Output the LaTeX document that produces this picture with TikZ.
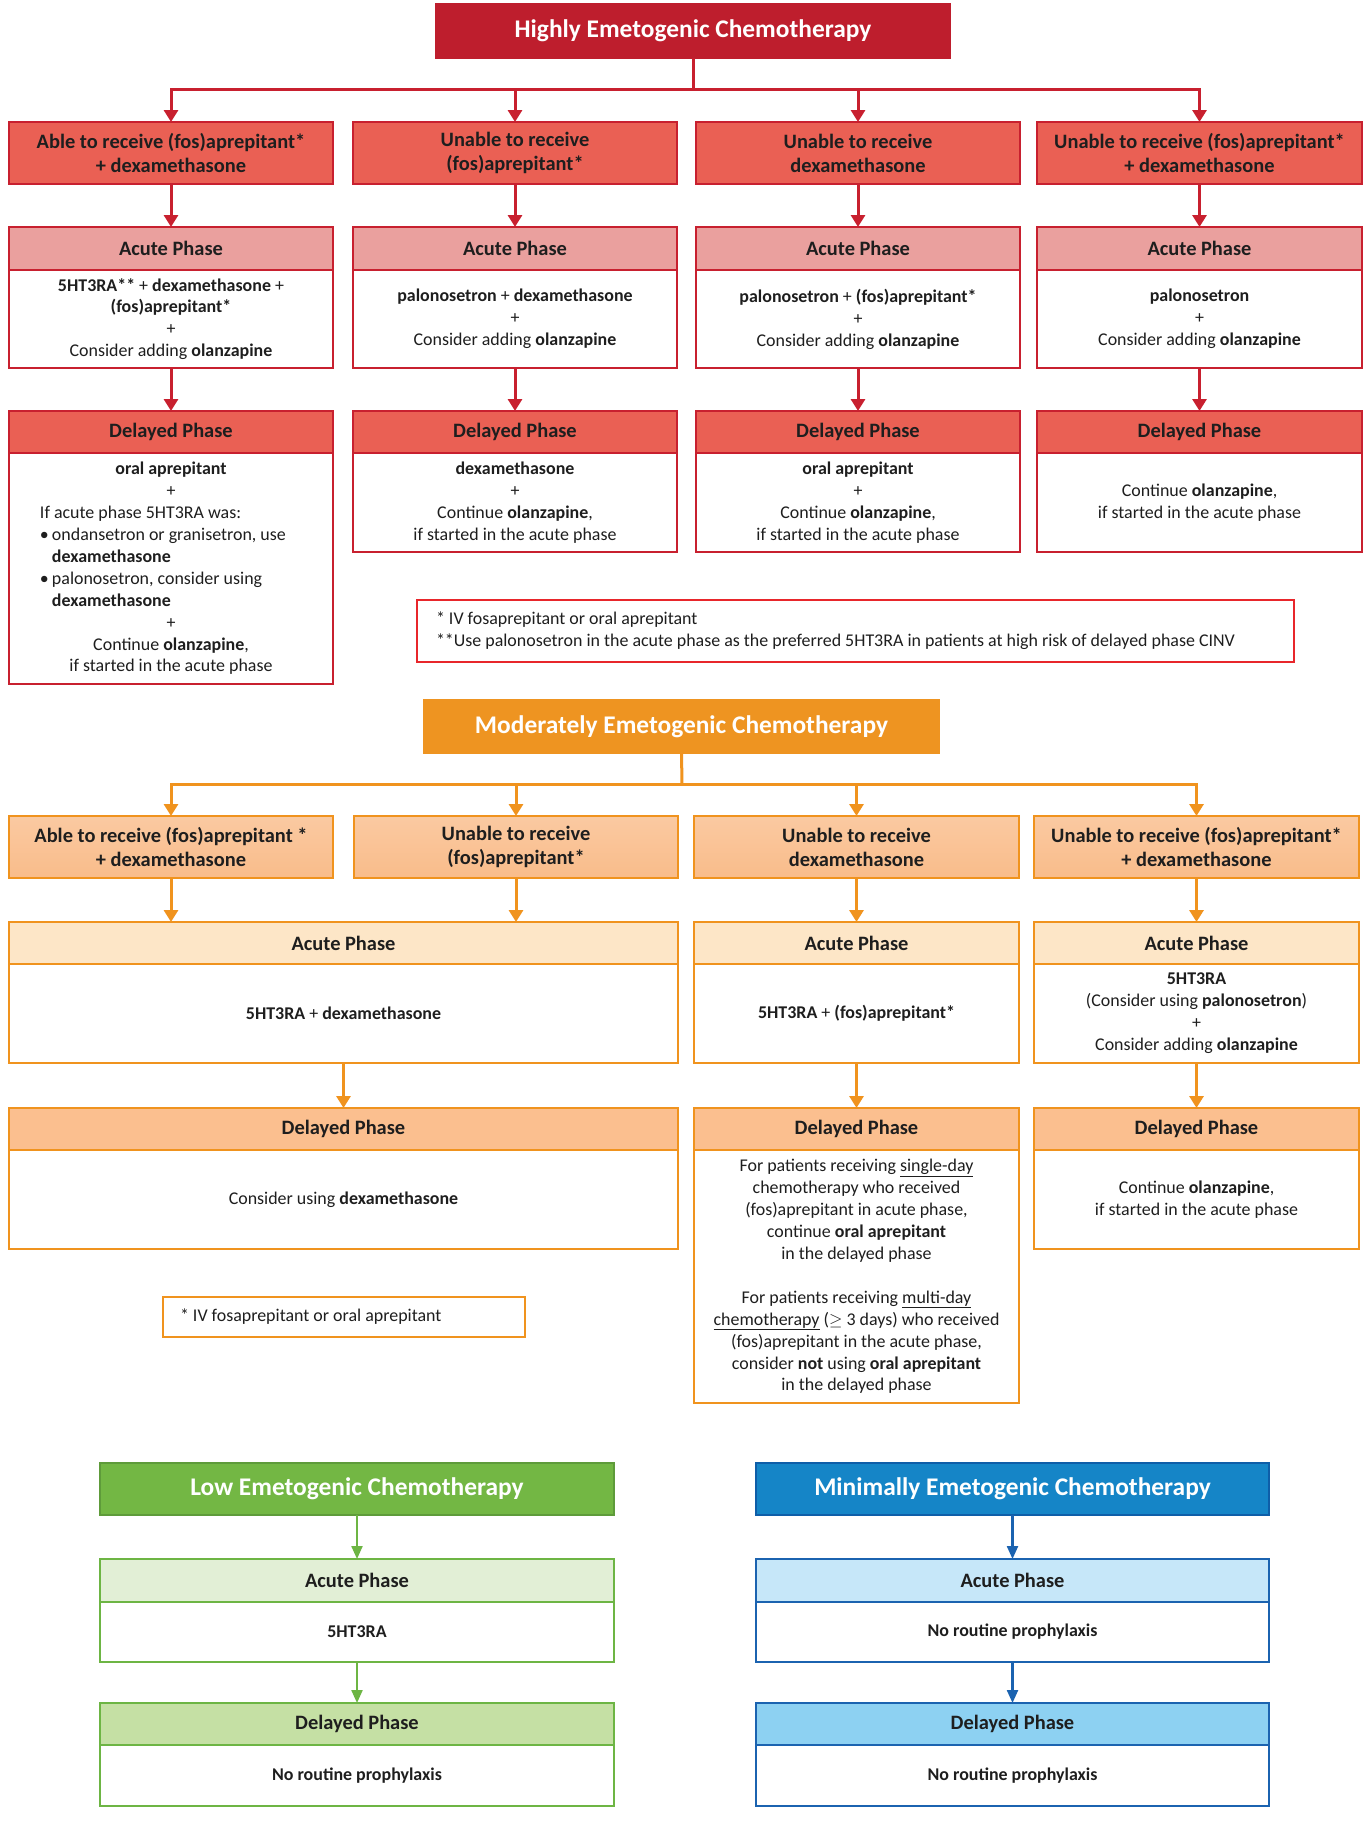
\documentclass[tikz,border=0pt]{standalone}
\usepackage{fontspec}
\setmainfont{Carlito}
\usetikzlibrary{arrows.meta}
\definecolor{txt}{HTML}{1E1E1E}
\definecolor{hecdark}{HTML}{BE1E2D}
\definecolor{hecmid}{HTML}{EA6054}
\definecolor{heclight}{HTML}{EAA09E}
\definecolor{hecline}{HTML}{C8202F}
\definecolor{hecnote}{HTML}{E8262B}
\definecolor{mecdark}{HTML}{EE9421}
\definecolor{mecbranch}{HTML}{F9BC8A}
\definecolor{mecline}{HTML}{F0931E}
\definecolor{meclight}{HTML}{FDE6C7}
\definecolor{mecmid}{HTML}{FBBF8F}
\definecolor{lecdark}{HTML}{73B744}
\definecolor{lecedge}{HTML}{5E9B3A}
\definecolor{leclight}{HTML}{E2EFD6}
\definecolor{lecmid}{HTML}{C5E0A4}
\definecolor{lecline}{HTML}{6DB544}
\definecolor{mindark}{HTML}{1585C7}
\definecolor{minedge}{HTML}{0E5EA8}
\definecolor{minlight}{HTML}{C6E7F9}
\definecolor{minmid}{HTML}{8DD1F2}
\definecolor{minline}{HTML}{1B63B0}
\newcommand\bx[7]{\node[#6,anchor=north west,minimum width={(#4-(#2))*1bp},minimum height={(#5-(#3))*1bp}] (#1) at (#2,#3) {#7};}
\begin{document}
\begin{tikzpicture}[x=1bp,y=-1bp,
  box/.style={rectangle,draw,line width=2.6bp,outer sep=0pt,inner sep=2bp,text=txt,align=center},
  body/.style={box,fill=white,font=\fontsize{18}{22}\selectfont},
  head/.style={box,font=\fontsize{20.5}{24}\bfseries},
  ttl/.style={box,text=white,font=\fontsize{25.5}{30}\bfseries},
  note/.style={box,fill=white,align=flush left,font=\fontsize{18}{22}\selectfont},
  rarr/.style={draw=hecline,line width=3bp,-{Triangle[width=14bp,length=12bp]}},
  rline/.style={draw=hecline,line width=3bp},
  oarr/.style={draw=mecline,line width=3bp,-{Triangle[width=14bp,length=12bp]}},
  oline/.style={draw=mecline,line width=3bp},
  garr/.style={draw=lecline,line width=2.2bp,-{Triangle[width=11bp,length=13bp]}},
  barr/.style={draw=minline,line width=2.2bp,-{Triangle[width=11bp,length=13bp]}},
]
\useasboundingbox[fill=white] (0,0) rectangle (1367,1823);

% ================= HIGHLY =================
\bx{hec}{436}{4}{950}{58}{ttl,fill=hecdark,draw=hecdark}{Highly Emetogenic Chemotherapy}
\bx{hb1}{9}{122}{333}{184}{head,fill=hecmid,draw=hecline}{Able to receive (fos)aprepitant*\\+ dexamethasone}
\bx{hb2}{353}{122}{677}{184}{head,fill=hecmid,draw=hecline}{Unable to receive\\(fos)aprepitant*}
\bx{hb3}{696}{122}{1020}{184}{head,fill=hecmid,draw=hecline}{Unable to receive\\dexamethasone}
\bx{hb4}{1037}{122}{1362}{184}{head,fill=hecmid,draw=hecline}{Unable to receive (fos)aprepitant*\\+ dexamethasone}

\bx{hab1}{9}{270}{333}{368}{body,draw=hecline}{\textbf{5HT3RA**} + \textbf{dexamethasone} +\\\textbf{(fos)aprepitant*}\\+\\Consider adding \textbf{olanzapine}}
\bx{hab2}{353}{270}{677}{368}{body,draw=hecline}{\textbf{palonosetron} + \textbf{dexamethasone}\\+\\Consider adding \textbf{olanzapine}}
\bx{hab3}{696}{270}{1020}{368}{body,draw=hecline}{\textbf{palonosetron} + \textbf{(fos)aprepitant*}\\+\\Consider adding \textbf{olanzapine}}
\bx{hab4}{1037}{270}{1362}{368}{body,draw=hecline}{\textbf{palonosetron}\\+\\Consider adding \textbf{olanzapine}}
\foreach \i/\a/\b in {1/9/333,2/353/677,3/696/1020,4/1037/1362}{
  \bx{hah\i}{\a}{227}{\b}{270}{head,fill=heclight,draw=hecline}{Acute Phase}
}

\bx{hdb1}{9}{453}{333}{684}{body,draw=hecline}{\parbox{310bp}{\fontsize{18}{22}\selectfont
\centering\textbf{oral aprepitant}\\+\par
\raggedright\leftskip=24bp If acute phase 5HT3RA was:\\
\makebox[12bp][l]{\textbullet}ondansetron or granisetron, use\\
\hspace*{12bp}\textbf{dexamethasone}\\
\makebox[12bp][l]{\textbullet}palonosetron, consider using\\
\hspace*{12bp}\textbf{dexamethasone}\par
\centering +\\Continue \textbf{olanzapine},\\if started in the acute phase\par}}
\bx{hdb2}{353}{453}{677}{552}{body,draw=hecline}{\textbf{dexamethasone}\\+\\Continue \textbf{olanzapine},\\if started in the acute phase}
\bx{hdb3}{696}{453}{1020}{552}{body,draw=hecline}{\textbf{oral aprepitant}\\+\\Continue \textbf{olanzapine},\\if started in the acute phase}
\bx{hdb4}{1037}{453}{1362}{552}{body,draw=hecline}{Continue \textbf{olanzapine},\\if started in the acute phase}
\foreach \i/\a/\b in {1/9/333,2/353/677,3/696/1020,4/1037/1362}{
  \bx{hdh\i}{\a}{411}{\b}{453}{head,fill=hecmid,draw=hecline}{Delayed Phase}
}

\node[note,draw=hecnote,line width=2bp,anchor=north west,text width={(877-38)*1bp},inner xsep=19bp,minimum height=62bp] (hnote) at (417,600)
 {* IV fosaprepitant or oral aprepitant\\\relax **Use palonosetron in the acute phase as the preferred 5HT3RA in patients at high risk of delayed phase CINV};

\coordinate (hj) at (693,89);
\draw[rline] (hec.south) -- (hj);
\foreach \i in {1,2,3,4}{
  \draw[rarr] (hj) -| (hb\i.north);
  \draw[rarr] (hb\i.south) -- (hah\i.north);
  \draw[rarr] (hab\i.south) -- (hdh\i.north);
}

% ================= MODERATELY =================
\bx{mec}{424}{700}{939}{753}{ttl,fill=mecdark,draw=mecdark}{Moderately Emetogenic Chemotherapy}
\bx{mb1}{9}{816}{333}{878}{head,top color=mecbranch!80!white,bottom color=mecbranch,draw=mecline,line width=1.5bp}{Able to receive (fos)aprepitant *\\+ dexamethasone}
\bx{mb2}{354}{816}{678}{878}{head,top color=mecbranch!80!white,bottom color=mecbranch,draw=mecline,line width=1.5bp}{Unable to receive\\(fos)aprepitant*}
\bx{mb3}{694}{816}{1019}{878}{head,top color=mecbranch!80!white,bottom color=mecbranch,draw=mecline,line width=1.5bp}{Unable to receive\\dexamethasone}
\bx{mb4}{1034}{816}{1359}{878}{head,top color=mecbranch!80!white,bottom color=mecbranch,draw=mecline,line width=1.5bp}{Unable to receive (fos)aprepitant*\\+ dexamethasone}

\bx{mabA}{9}{964}{678}{1063}{body,draw=mecline}{\textbf{5HT3RA} + \textbf{dexamethasone}}
\bx{mab3}{694}{964}{1019}{1063}{body,draw=mecline}{\textbf{5HT3RA} + \textbf{(fos)aprepitant*}}
\bx{mab4}{1034}{964}{1359}{1063}{body,draw=mecline}{\textbf{5HT3RA}\\(Consider using \textbf{palonosetron})\\+\\Consider adding \textbf{olanzapine}}
\bx{mahA}{9}{922}{678}{964}{head,fill=meclight,draw=mecline}{Acute Phase}
\bx{mah3}{694}{922}{1019}{964}{head,fill=meclight,draw=mecline}{Acute Phase}
\bx{mah4}{1034}{922}{1359}{964}{head,fill=meclight,draw=mecline}{Acute Phase}

\bx{mdbA}{9}{1150}{678}{1249}{body,draw=mecline}{Consider using \textbf{dexamethasone}}
\bx{mdb3}{694}{1150}{1019}{1403}{body,draw=mecline}{For patients receiving \underline{single-day}\\chemotherapy who received\\(fos)aprepitant in acute phase,\\continue \textbf{oral aprepitant}\\in the delayed phase\\[22bp]For patients receiving \underline{multi-day}\\\underline{chemotherapy} (\ensuremath{\geq} 3 days) who received\\(fos)aprepitant in the acute phase,\\consider \textbf{not} using \textbf{oral aprepitant}\\in the delayed phase}
\bx{mdb4}{1034}{1150}{1359}{1249}{body,draw=mecline}{Continue \textbf{olanzapine},\\if started in the acute phase}
\bx{mdhA}{9}{1108}{678}{1150}{head,fill=mecmid,draw=mecline}{Delayed Phase}
\bx{mdh3}{694}{1108}{1019}{1150}{head,fill=mecmid,draw=mecline}{Delayed Phase}
\bx{mdh4}{1034}{1108}{1359}{1150}{head,fill=mecmid,draw=mecline}{Delayed Phase}

\node[note,draw=mecline,line width=2bp,anchor=north west,text width={(362-34)*1bp},inner xsep=17bp,minimum height=40bp] (mnote) at (163,1297)
 {* IV fosaprepitant or oral aprepitant};

\coordinate (mj) at (682,784);
\draw[oline] (mec.south) -- (mj);
\foreach \i in {1,2,3,4}{ \draw[oarr] (mj) -| (mb\i.north); }
\draw[oarr] (mb1.south) -- (mb1.south |- mahA.north);
\draw[oarr] (mb2.south) -- (mb2.south |- mahA.north);
\draw[oarr] (mb3.south) -- (mah3.north);
\draw[oarr] (mb4.south) -- (mah4.north);
\draw[oarr] (mabA.south) -- (mdhA.north);
\draw[oarr] (mab3.south) -- (mdh3.north);
\draw[oarr] (mab4.south) -- (mdh4.north);

% ================= LOW =================
\bx{lec}{100}{1463}{614}{1515}{ttl,fill=lecdark,draw=lecedge,line width=2bp}{Low Emetogenic Chemotherapy}
\bx{lab}{100}{1602}{614}{1662}{body,draw=lecline,line width=2.2bp}{\textbf{5HT3RA}}
\bx{lah}{100}{1559}{614}{1602}{head,fill=leclight,draw=lecline,line width=2.2bp}{Acute Phase}
\bx{ldb}{100}{1745}{614}{1806}{body,draw=lecline,line width=2.2bp}{\textbf{No routine prophylaxis}}
\bx{ldh}{100}{1703}{614}{1745}{head,fill=lecmid,draw=lecline,line width=2.2bp}{Delayed Phase}
\draw[garr] (lec.south) -- (lah.north);
\draw[garr] (lab.south) -- (ldh.north);

% ================= MINIMAL =================
\bx{nec}{756}{1463}{1269}{1515}{ttl,fill=mindark,draw=minedge,line width=2bp}{Minimally Emetogenic Chemotherapy}
\bx{nab}{756}{1602}{1269}{1662}{body,draw=minline,line width=2.4bp}{\textbf{No routine prophylaxis}}
\bx{nah}{756}{1559}{1269}{1602}{head,fill=minlight,draw=minline,line width=2.4bp}{Acute Phase}
\bx{ndb}{756}{1745}{1269}{1806}{body,draw=minline,line width=2.4bp}{\textbf{No routine prophylaxis}}
\bx{ndh}{756}{1703}{1269}{1745}{head,fill=minmid,draw=minline,line width=2.4bp}{Delayed Phase}
\draw[barr] (nec.south) -- (nah.north);
\draw[barr] (nab.south) -- (ndh.north);
\end{tikzpicture}
\end{document}
